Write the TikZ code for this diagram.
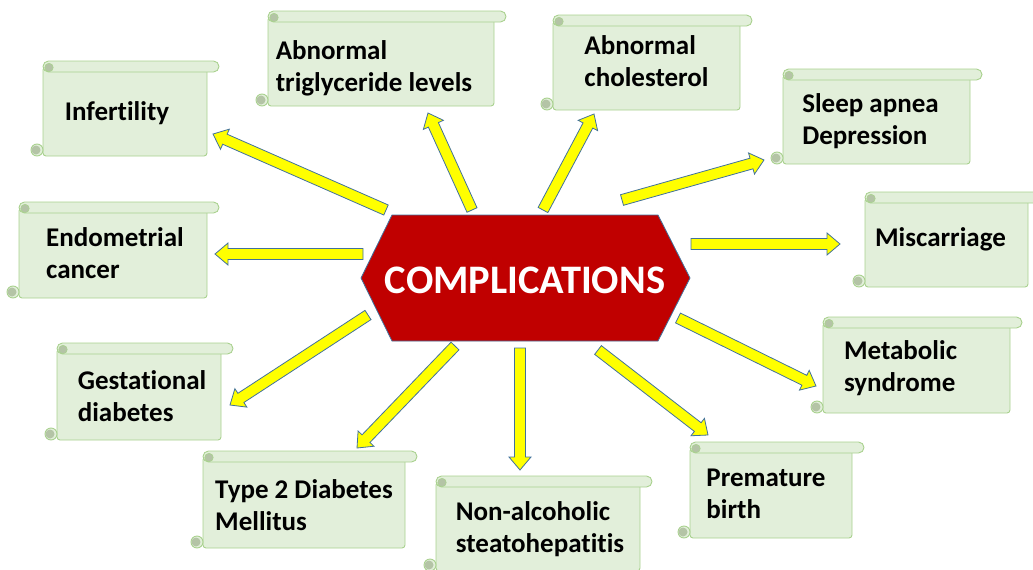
\documentclass[tikz,border=0pt]{standalone}
\usepackage{fontspec}
\setmainfont{Carlito}[Ligatures=NoCommon]
\usetikzlibrary{calc}
\definecolor{scrollfill}{HTML}{E2EFDA}
\definecolor{scrolledge}{HTML}{A9D18E}
\definecolor{curlfill}{HTML}{B4C4A6}
\definecolor{hexred}{HTML}{C00000}
\definecolor{arrowedge}{HTML}{41719C}
\definecolor{arrowfill}{HTML}{FFFF00}
\tikzset{
  scrollline/.style={draw=scrolledge, fill=scrollfill, line width=0.9pt},
  curlline/.style={draw=scrolledge, fill=curlfill, line width=0.6pt},
  scrolltext/.style={font=\bfseries\fontsize{27}{32}\selectfont, align=left, text=black, inner sep=0pt},
  barrow/.style={draw=arrowedge, fill=arrowfill, line width=0.8pt, line join=miter},
  hexshape/.style={draw=arrowedge, fill=hexred, line width=0.8pt},
  hextext/.style={font=\bfseries\fontsize{40.5}{44}\selectfont, text=white, inner sep=0pt}
}
% #1 name, #2 L, #3 T, #4 R, #5 B, #6 text x shift, #7 text y shift, #8 text
\newcommand\scrollbox[8]{%
  \draw[scrollline, rounded corners=3pt] (#2,{#3+6}) rectangle ({#4-12},#5);
  \draw[scrollline] ({#2-6},{#5-6}) circle[radius=6pt];
  \fill[curlfill] ({#2-7},{#5-6}) circle[radius=4.5pt];
  \draw[scrollline, rounded corners=5.5pt] (#2,#3) rectangle (#4,{#3+11});
  \draw[curlline] ({#2+6},{#3+6.5}) circle[radius=4.2pt];
  \node[scrolltext] (#1) at ({(#2+#4-12)/2-3+#6},{(#3+11+#5)/2-2+#7}) {#8};
}
\newcommand\blockarrow[2]{%
  \coordinate (hb) at ($(#2)!13pt!(#1)$);
  \draw[barrow] ($(#1)!5.5pt!90:(#2)$) -- ($(hb)!5.5pt!90:(#2)$) -- ($(hb)!11pt!90:(#2)$) -- (#2)
     -- ($(hb)!11pt!-90:(#2)$) -- ($(hb)!5.5pt!-90:(#2)$) -- ($(#1)!5.5pt!-90:(#2)$) -- cycle;
}
\begin{document}
\begin{tikzpicture}[x=1pt,y=-1pt]
\useasboundingbox (0,0) rectangle (1033,570);
\clip (0,0) rectangle (1033,570);

% scrolls
\scrollbox{inf}{43}{61}{219}{156}{-5}{1}{Infertility}
\scrollbox{trig}{268}{11}{506}{106}{-4}{6}{Abnormal\\triglyceride levels}
\scrollbox{chol}{553}{15}{752}{110}{3}{-5}{Abnormal\\cholesterol}
\scrollbox{sleep}{783}{69}{982}{164}{-3}{1}{Sleep apnea\\Depression}
\scrollbox{misc}{865}{192}{1040}{287}{-3}{-4}{Miscarriage}
\scrollbox{meta}{823}{317}{1022}{413}{-13}{0}{Metabolic\\syndrome}
\scrollbox{prem}{690}{442}{864}{538}{-2}{0}{Premature\\birth}
\scrollbox{nash}{436}{476}{652}{571}{5}{2}{Non-alcoholic\\steatohepatitis}
\scrollbox{tdm}{203}{451}{417}{548}{3}{2}{Type 2 Diabetes\\Mellitus}
\scrollbox{gest}{57}{343}{233}{440}{6}{1}{Gestational\\diabetes}
\scrollbox{endo}{19}{202}{219}{298}{5}{0}{Endometrial\\cancer}

% centre hexagon
\draw[hexshape] (361,278) -- (392,215) -- (658,215) -- (690,278) -- (658,341) -- (392,341) -- cycle;
\node[hextext] (comp) at (525,280) {COMPLICATIONS};

% arrow end points
\coordinate (t1) at (386,210);  \coordinate (a1) at (213,134);
\coordinate (t2) at (472,210);  \coordinate (a2) at (428,113);
\coordinate (t3) at (543,210);  \coordinate (a3) at (594,114);
\coordinate (t4) at (622,200);  \coordinate (a4) at (764,160);
\coordinate (t5) at (691,244);  \coordinate (a5) at (840,244);
\coordinate (t6) at (678,318);  \coordinate (a6) at (816,386);
\coordinate (t7) at (598,350);  \coordinate (a7) at (708,435);
\coordinate (t8) at (520,348);  \coordinate (a8) at (520,470);
\coordinate (t9) at (455,346);  \coordinate (a9) at (357,448);
\coordinate (t10) at (368,315); \coordinate (a10) at (230,405);
\coordinate (t11) at (363,254); \coordinate (a11) at (215,254);

\blockarrow{t1}{a1}
\blockarrow{t2}{a2}
\blockarrow{t3}{a3}
\blockarrow{t4}{a4}
\blockarrow{t5}{a5}
\blockarrow{t6}{a6}
\blockarrow{t7}{a7}
\blockarrow{t8}{a8}
\blockarrow{t9}{a9}
\blockarrow{t10}{a10}
\blockarrow{t11}{a11}
\end{tikzpicture}
\end{document}
